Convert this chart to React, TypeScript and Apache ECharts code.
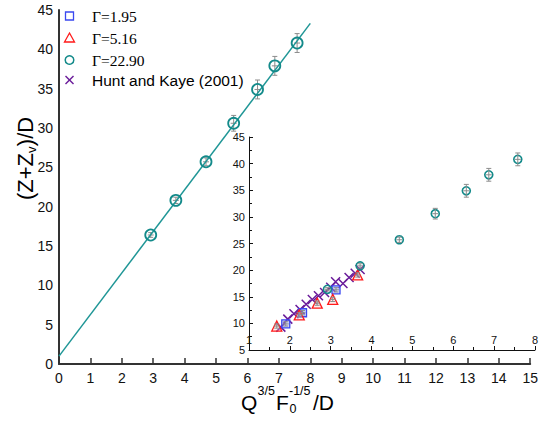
import React, { useEffect, useRef } from 'react';
import * as echarts from 'echarts';

// Γ=1.95 (inset)
const g195X = [1.9, 2.31, 3.13];
const g195Y = [9.9, 12.0, 16.3];
const g195Err = [0.4, 0.4, 0.4];
// Γ=5.16 (inset)
const g516X = [1.68, 2.23, 2.67, 3.05, 3.66];
const g516Y = [9.5, 11.6, 13.8, 14.5, 19.1];
const g516Err = [0.4, 0.4, 0.4, 0.4, 0.4];
// Γ=22.90 (main + inset)
const g2290X = [2.92, 3.72, 4.68, 5.56, 6.32, 6.87, 7.58];
const g2290Y = [16.4, 20.8, 25.7, 30.6, 34.9, 37.9, 40.8];
const g2290Err = [0.3, 0.4, 0.5, 1.0, 1.2, 1.2, 1.2];
// Hunt and Kaye (2001) (inset)
const hkX = [1.78, 1.95, 2.1, 2.25, 2.4, 2.55, 2.7, 2.85, 3.0, 3.12, 3.3, 3.45, 3.6, 3.72];
const hkY = [9.3, 10.8, 11.8, 12.6, 13.6, 14.5, 15.2, 15.8, 16.8, 17.8, 17.5, 18.6, 19.4, 20.1];
// linear fit in main plot
const fitX = [0, 8.0];
const fitY = [1.0, 43.3];

const TEAL = '#138a8a';
const BLUE = '#3a48f0';
const RED = '#ff1a1a';
const PURPLE = '#6a1b9a';
const SANS = 'Liberation Sans, Arial, sans-serif';
const SERIF = 'Liberation Serif, Times New Roman, serif';

const zip = (xs: number[], ys: number[], es?: number[]) =>
  xs.map((x, i) => (es ? [x, ys[i], es[i]] : [x, ys[i]]));

const errRender = (params: any, api: any) => {
  const x = api.value(0);
  const y = api.value(1);
  const e = api.value(2);
  const c = api.coord([x, y]);
  const t = api.coord([x, y + e]);
  const b = api.coord([x, y - e]);
  const style = { stroke: '#8c8c8c', lineWidth: 1 };
  return {
    type: 'group',
    children: [
      { type: 'line', shape: { x1: c[0], y1: t[1], x2: c[0], y2: b[1] }, style },
      { type: 'line', shape: { x1: c[0] - 2.5, y1: t[1], x2: c[0] + 2.5, y2: t[1] }, style },
      { type: 'line', shape: { x1: c[0] - 2.5, y1: b[1], x2: c[0] + 2.5, y2: b[1] }, style },
      { type: 'line', shape: { x1: c[0] - 3, y1: c[1], x2: c[0] + 3, y2: c[1] }, style },
    ],
  };
};

export default function App() {
  const ref = useRef<HTMLDivElement>(null);
  useEffect(() => {
    if (!ref.current) return;
    const chart = echarts.init(ref.current, undefined, { renderer: 'svg' });

    const txt = (x: number, y: number, text: string, size: number, family = SANS) => ({
      type: 'text',
      x,
      y,
      style: { text, fontSize: size, fontFamily: family, fill: '#000', verticalAlign: 'middle', align: 'left' },
    });

    const legendRows = [16, 38, 60, 80];
    const lx = 69.5;

    const option: any = {
      animation: false,
      backgroundColor: '#fff',
      grid: [
        { left: 59, right: 5, top: 10, bottom: 57 },
        { left: 249, right: 6, top: 137, bottom: 71 },
      ],
      xAxis: [
        {
          gridIndex: 0, type: 'value', min: 0, max: 15, interval: 1,
          axisLine: { lineStyle: { color: '#333', width: 2 } },
          axisTick: { inside: true, length: 6, lineStyle: { color: '#333', width: 1.5 } },
          axisLabel: { fontSize: 14, color: '#111', margin: 7, fontFamily: SANS },
          splitLine: { show: false },
        },
        {
          gridIndex: 1, type: 'value', min: 1, max: 8, interval: 1,
          axisLine: { lineStyle: { color: '#111', width: 1 } },
          axisTick: { inside: true, length: 4, lineStyle: { color: '#111' } },
          minorTick: { show: true, splitNumber: 2, length: 3, lineStyle: { color: '#111' } },
          axisLabel: { inside: true, fontSize: 11, color: '#111', margin: 5, fontFamily: SANS },
          splitLine: { show: false },
        },
      ],
      yAxis: [
        {
          gridIndex: 0, type: 'value', min: 0, max: 45, interval: 5,
          axisLine: { show: true, lineStyle: { color: '#333', width: 2 } },
          axisTick: { show: false },
          axisLabel: { fontSize: 14, color: '#111', margin: 6, fontFamily: SANS },
          splitLine: { show: false },
        },
        {
          gridIndex: 1, type: 'value', min: 5, max: 45, interval: 5,
          axisLine: { show: true, lineStyle: { color: '#111', width: 1 } },
          axisTick: { inside: true, length: 4, lineStyle: { color: '#111' } },
          minorTick: { show: true, splitNumber: 2, length: 3, lineStyle: { color: '#111' } },
          axisLabel: { fontSize: 11, color: '#111', margin: 4, fontFamily: SANS },
          splitLine: { show: false },
        },
      ],
      series: [
        {
          type: 'line', xAxisIndex: 0, yAxisIndex: 0, data: zip(fitX, fitY),
          showSymbol: false, lineStyle: { color: '#1f9696', width: 1.5 },
        },
        {
          type: 'custom', xAxisIndex: 0, yAxisIndex: 0, data: zip(g2290X, g2290Y, g2290Err),
          renderItem: errRender, encode: { x: 0, y: 1 }, z: 3,
        },
        {
          type: 'scatter', xAxisIndex: 0, yAxisIndex: 0, data: zip(g2290X, g2290Y),
          symbol: 'circle', symbolSize: 11, z: 4,
          itemStyle: { color: 'rgba(255,255,255,0)', borderColor: TEAL, borderWidth: 1.8, opacity: 1 },
        },
        {
          type: 'scatter', xAxisIndex: 1, yAxisIndex: 1, data: zip(hkX, hkY),
          symbol: 'path://M0,0L10,10M10,0L0,10', symbolSize: 9, z: 2,
          itemStyle: { color: 'rgba(0,0,0,0)', borderColor: PURPLE, borderWidth: 1.5, opacity: 1 },
        },
        {
          type: 'scatter', xAxisIndex: 1, yAxisIndex: 1, data: zip(g195X, g195Y),
          symbol: 'rect', symbolSize: 8, z: 3,
          itemStyle: { color: 'rgba(120,140,255,0.35)', borderColor: BLUE, borderWidth: 1.3, opacity: 1 },
        },
        {
          type: 'scatter', xAxisIndex: 1, yAxisIndex: 1, data: zip(g516X, g516Y),
          symbol: 'triangle', symbolSize: 10, z: 3,
          itemStyle: { color: 'rgba(255,200,200,0.3)', borderColor: RED, borderWidth: 1.3, opacity: 1 },
        },
        {
          type: 'scatter', xAxisIndex: 1, yAxisIndex: 1, data: zip(g2290X, g2290Y),
          symbol: 'circle', symbolSize: 8, z: 3,
          itemStyle: { color: 'rgba(255,255,255,0)', borderColor: TEAL, borderWidth: 1.6, opacity: 1 },
        },
        {
          type: 'custom', xAxisIndex: 1, yAxisIndex: 1,
          data: [...zip(g195X, g195Y, g195Err), ...zip(g516X, g516Y, g516Err), ...zip(g2290X, g2290Y, g2290Err)],
          renderItem: errRender, encode: { x: 0, y: 1 }, z: 4,
        },
      ],
      graphic: [
        // legend
        { type: 'rect', shape: { x: lx - 4, y: legendRows[0] - 4, width: 8, height: 8 }, style: { fill: 'none', stroke: BLUE, lineWidth: 1.3 } },
        { type: 'polygon', shape: { points: [[lx, legendRows[1] - 5], [lx + 5, legendRows[1] + 4], [lx - 5, legendRows[1] + 4]] }, style: { fill: 'none', stroke: RED, lineWidth: 1.3 } },
        { type: 'circle', shape: { cx: lx, cy: legendRows[2], r: 4.3 }, style: { fill: 'none', stroke: TEAL, lineWidth: 1.5 } },
        { type: 'line', shape: { x1: lx - 4, y1: legendRows[3] - 4, x2: lx + 4, y2: legendRows[3] + 4 }, style: { stroke: PURPLE, lineWidth: 1.4 } },
        { type: 'line', shape: { x1: lx + 4, y1: legendRows[3] - 4, x2: lx - 4, y2: legendRows[3] + 4 }, style: { stroke: PURPLE, lineWidth: 1.4 } },
        txt(92, legendRows[0], 'Γ=1.95', 15.5, SERIF),
        txt(92, legendRows[1], 'Γ=5.16', 15.5, SERIF),
        txt(92, legendRows[2], 'Γ=22.90', 15.5, SERIF),
        txt(92, legendRows[3], 'Hunt and Kaye (2001)', 15.5, SANS),
        // x-axis title
        txt(241, 402, 'Q', 21),
        txt(257.5, 391, '3/5', 12.5),
        txt(276, 402, 'F', 21),
        txt(289, 391, '-1/5', 12.5),
        txt(289.5, 409, '0', 12.5),
        txt(313, 402, '/D', 21),
        // y-axis title
        {
          type: 'group', x: 25, y: 200, rotation: Math.PI / 2,
          children: [
            txt(0, 0, '(Z+Z', 22),
            txt(47, 6, 'v', 13),
            txt(53.8, 0, ')/D', 22),
          ],
        },
      ],
    };
    chart.setOption(option);
    return () => chart.dispose();
  }, []);
  return <div ref={ref} style={{ position: 'absolute', left: 0, top: 0, width: 541, height: 421 }} />;
}
